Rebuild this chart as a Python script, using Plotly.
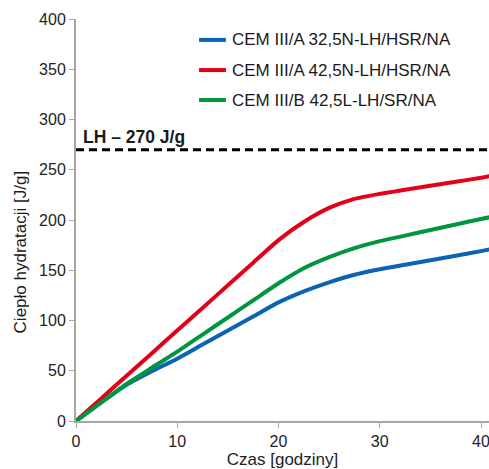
import plotly.graph_objects as go

hours = [0, 2.5, 5, 7.5, 10, 12.5, 15, 17.5, 20, 22.5, 25, 27.5, 30, 32.5, 35, 37.5, 40, 41]
blue = [0, 18.5, 36, 49.5, 62, 76, 90, 104, 118, 129, 138, 145.5, 151, 155.5, 160, 164.5, 169, 171]
red = [0, 22.5, 45, 67.5, 90, 112.5, 135, 157.5, 180, 198, 212, 221, 226, 230, 234, 238, 242, 244]
green = [0, 18.5, 37, 53, 69, 86, 103, 120, 137, 152, 163, 172, 179, 184.5, 190, 195.5, 201, 203]
series_names = ["CEM III/A 32,5N-LH/HSR/NA", "CEM III/A 42,5N-LH/HSR/NA", "CEM III/B 42,5L-LH/SR/NA"]
colors = ["#0a64b4", "#e2001a", "#00963f"]
lh_limit = 270
lh_label = "LH – 270 J/g"
FONT = "Liberation Sans, Arial, sans-serif"

fig = go.Figure()
for name, vals, c in zip(series_names, [blue, red, green], colors):
    fig.add_trace(go.Scatter(x=hours, y=vals, mode="lines", name=name, showlegend=False,
                             line=dict(color=c, width=4, shape="spline", smoothing=0.6)))

fig.add_shape(type="line", xref="paper", yref="y", x0=0, x1=1, y0=lh_limit, y1=lh_limit,
              line=dict(color="black", width=3, dash="8px,5px"))
fig.add_annotation(x=0.5, y=lh_limit, xref="x", yref="y", text="<b>" + lh_label + "</b>",
                   showarrow=False, xanchor="left", yanchor="bottom", yshift=1,
                   font=dict(size=17.5, color="#1a1a1a", family=FONT))

# custom legend
legend_rows = [0.948, 0.873, 0.7985]
for name, c, yy in zip(series_names, colors, legend_rows):
    fig.add_shape(type="line", xref="paper", yref="paper", x0=0.298, x1=0.363, y0=yy, y1=yy,
                  line=dict(color=c, width=4))
    fig.add_annotation(x=0.372, y=yy, xref="paper", yref="paper", text=name, showarrow=False,
                       xanchor="left", yanchor="middle", font=dict(size=17, color="#1a1a1a", family=FONT))

# y-axis title as annotation (offset like reference)
fig.add_annotation(x=-0.135, y=0.42, xref="paper", yref="paper", text="Ciepło hydratacji [J/g]",
                   textangle=-90, showarrow=False, xanchor="center", yanchor="middle",
                   font=dict(size=17, color="#1a1a1a", family=FONT))

fig.update_layout(
    width=489, height=469,
    margin=dict(l=76, r=0, t=19, b=48),
    paper_bgcolor="white", plot_bgcolor="white",
    font=dict(family=FONT, size=16, color="#222"),
    showlegend=False,
    xaxis=dict(range=[0, 40.79], tickvals=[0, 10, 20, 30, 40], showgrid=False, zeroline=False,
               showline=True, linecolor="#a6a6a6", linewidth=2, ticks="outside", ticklen=5,
               tickcolor="#a6a6a6", tickfont=dict(size=16), ticklabeloverflow="allow",
               title=dict(text="Czas [godziny]", font=dict(size=17), standoff=6)),
    yaxis=dict(range=[0, 400], tickvals=list(range(0, 401, 50)), showgrid=False, zeroline=False,
               showline=True, linecolor="#a6a6a6", linewidth=2, ticks="outside", ticklen=5,
               tickcolor="#a6a6a6", tickfont=dict(size=16)),
)
fig.write_html("out.html")
